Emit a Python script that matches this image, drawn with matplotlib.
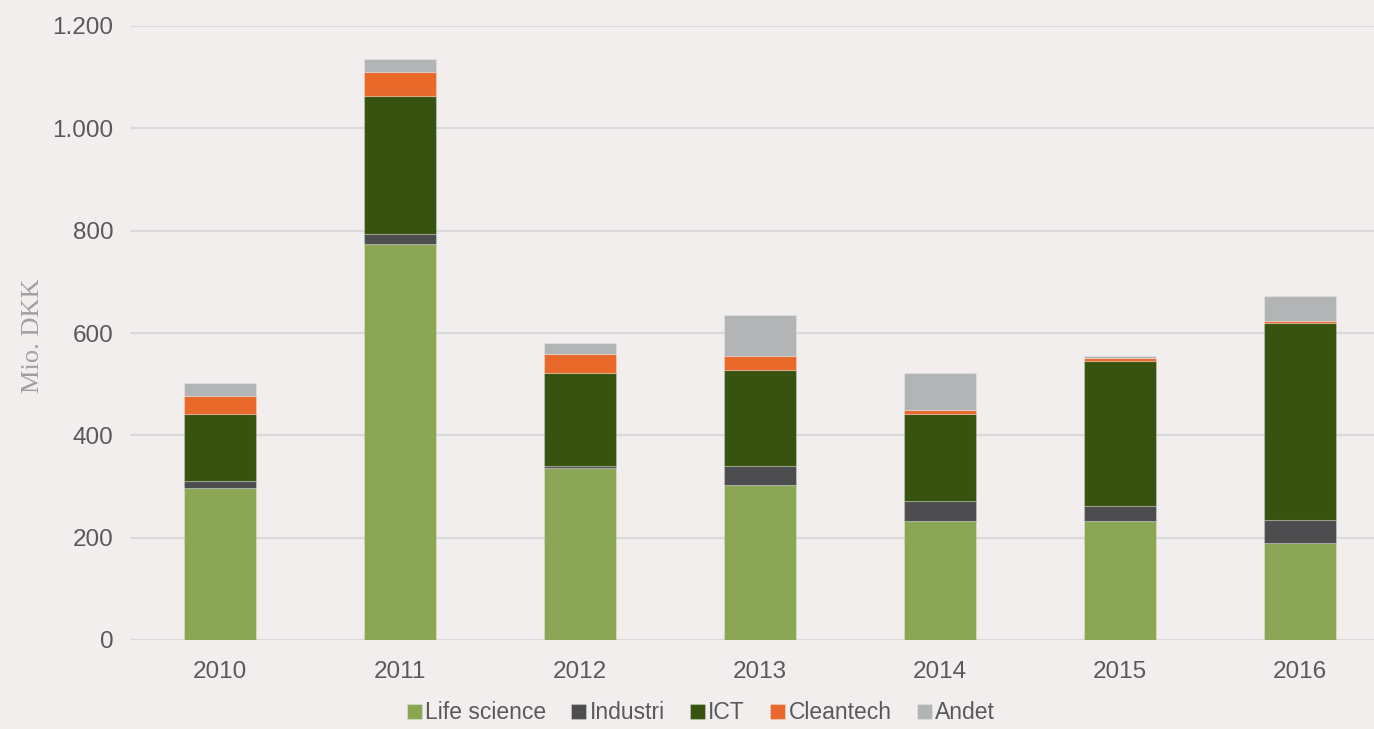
import matplotlib
matplotlib.use("Agg")
import matplotlib.pyplot as plt
import numpy as np

years = ["2010", "2011", "2012", "2013", "2014", "2015", "2016"]
life_science = [298, 774, 337, 303, 232, 232, 190]
industri = [12, 20, 4, 37, 39, 30, 45]
ict = [132, 270, 180, 188, 171, 283, 384]
cleantech = [35, 47, 38, 28, 8, 6, 4]
andet = [26, 25, 21, 79, 72, 5, 50]

series = [
    ("Life science", life_science, "#8BA755"),
    ("Industri", industri, "#4D4D4F"),
    ("ICT", ict, "#38530F"),
    ("Cleantech", cleantech, "#E8692A"),
    ("Andet", andet, "#B3B4B6"),
]

bg = "#F1EEED"
plt.rcParams['font.family'] = ['Liberation Sans', 'DejaVu Sans']

fig = plt.figure(figsize=(13.74, 7.29), dpi=100, facecolor=bg)
ax = fig.add_axes([130/1374, 89/729, 1260/1374, 614/729], facecolor=bg)

x = np.arange(len(years))
bottom = np.zeros(len(years))
handles = []
for name, vals, col in series:
    vals = np.array(vals, dtype=float)
    b = ax.bar(x, vals, 0.4, bottom=bottom, color=col, label=name,
               edgecolor=(1, 1, 1, 0.25), linewidth=0.8, zorder=3)
    handles.append(b)
    bottom += vals

ax.set_xlim(-0.5, 6.5)
ax.set_ylim(0, 1200)
ax.set_yticks(np.arange(0, 1201, 200))
ax.set_yticklabels(["0", "200", "400", "600", "800", "1.000", "1.200"])
ax.set_xticks(x)
ax.set_xticklabels(years)
ax.grid(axis='y', color='#D9D9D9', linewidth=1.5, zorder=0)
ax.set_axisbelow(True)
for s in ax.spines.values():
    s.set_visible(False)
ax.tick_params(axis='both', length=0, labelsize=17.5, labelcolor='#595959')
ax.tick_params(axis='y', pad=12)
ax.tick_params(axis='x', pad=15)

fig.text(33/1374, 1 - 336/729, "Mio. DKK", rotation=90, ha='center', va='center',
         fontsize=19, color='#A0A0A0', family=['Liberation Serif', 'DejaVu Serif'])

fig.legend(handles=handles, labels=[s[0] for s in series], loc='lower center',
           bbox_to_anchor=(0.51, -0.022), ncol=5, frameon=False, fontsize=16.5,
           handlelength=0.65, handleheight=0.65, handletextpad=0.15, columnspacing=1.1,
           labelcolor='#595959')

fig.savefig("out.png", dpi=100, facecolor=bg)
